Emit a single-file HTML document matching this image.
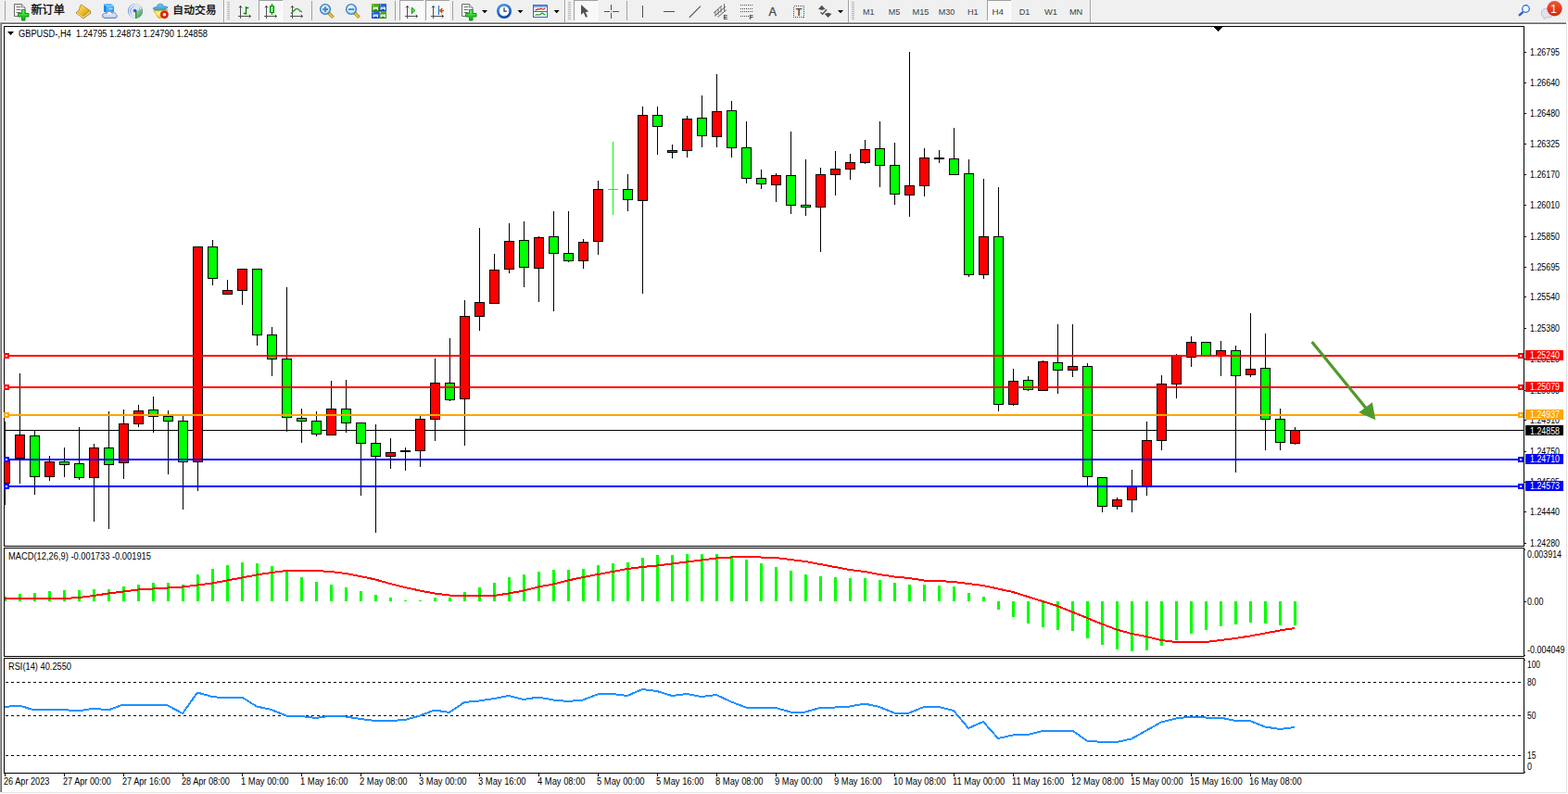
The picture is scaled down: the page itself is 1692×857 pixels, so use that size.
<!DOCTYPE html>
<html><head><meta charset="utf-8"><title>GBPUSD H4</title>
<style>
html,body{margin:0;padding:0;background:#fff;}
body{width:1692px;height:857px;overflow:hidden;position:relative;font-family:"Liberation Sans",sans-serif;}
#tb{position:absolute;left:0;top:0;width:1692px;height:24px;background:#f0f0f0;}
.ln{position:absolute;}
svg{position:absolute;left:0;top:0;}
</style></head><body>
<div id="tb"></div>
<div class="ln" style="left:0;top:23px;width:1692px;height:1px;background:#f6f6f6"></div>
<div class="ln" style="left:0;top:24px;width:1690px;height:1px;background:#a0a0a0"></div>
<div class="ln" style="left:0;top:25px;width:1690px;height:1px;background:#696969"></div>
<div class="ln" style="left:0;top:24px;width:1px;height:831px;background:#a0a0a0"></div>
<div class="ln" style="left:1px;top:25px;width:1px;height:830px;background:#696969"></div>
<div class="ln" style="left:1690px;top:24px;width:2px;height:2px;background:#f4f4f4"></div>
<div class="ln" style="left:1690px;top:26px;width:1px;height:830px;background:#e3e3e3"></div>
<div class="ln" style="left:1px;top:855px;width:1690px;height:1px;background:#e3e3e3"></div>
<svg id="chart" width="1692" height="857" viewBox="0 0 1692 857" shape-rendering="crispEdges"><rect x="4" y="28" width="1641" height="1" fill="#000"/>
<rect x="4" y="589" width="1641" height="1" fill="#000"/>
<rect x="4" y="28" width="1" height="562" fill="#000"/>
<rect x="1644" y="28" width="1" height="562" fill="#000"/>
<rect x="4" y="591" width="1641" height="1" fill="#000"/>
<rect x="4" y="708" width="1641" height="1" fill="#000"/>
<rect x="4" y="591" width="1" height="118" fill="#000"/>
<rect x="1644" y="591" width="1" height="118" fill="#000"/>
<rect x="4" y="710" width="1641" height="1" fill="#000"/>
<rect x="4" y="834" width="1641" height="1" fill="#000"/>
<rect x="4" y="710" width="1" height="125" fill="#000"/>
<rect x="1644" y="710" width="1" height="125" fill="#000"/>
<rect x="1645" y="593" width="1" height="1" fill="#000"/>
<rect x="1645" y="707" width="1" height="1" fill="#000"/>
<rect x="1645" y="712" width="1" height="1" fill="#000"/>
<rect x="1645" y="833" width="1" height="1" fill="#000"/>
<rect x="1310" y="29" width="9" height="1" fill="#000"/>
<rect x="1311" y="30" width="7" height="1" fill="#000"/>
<rect x="1312" y="31" width="5" height="1" fill="#000"/>
<rect x="1313" y="32" width="3" height="1" fill="#000"/>
<rect x="1314" y="33" width="1" height="1" fill="#000"/>
<rect x="5" y="464" width="1639" height="1" fill="#000"/>
<rect x="5" y="455" width="1" height="90" fill="#000"/>
<rect x="5" y="497" width="6" height="25" fill="#000"/>
<rect x="5" y="498" width="5" height="23" fill="#f00"/>
<rect x="21" y="403" width="1" height="119" fill="#000"/>
<rect x="16" y="469" width="11" height="26" fill="#000"/>
<rect x="17" y="470" width="9" height="24" fill="#f00"/>
<rect x="37" y="465" width="1" height="69" fill="#000"/>
<rect x="32" y="470" width="11" height="45" fill="#000"/>
<rect x="33" y="471" width="9" height="43" fill="#0f0"/>
<rect x="53" y="492" width="1" height="27" fill="#000"/>
<rect x="48" y="498" width="11" height="17" fill="#000"/>
<rect x="49" y="499" width="9" height="15" fill="#f00"/>
<rect x="69" y="483" width="1" height="32" fill="#000"/>
<rect x="64" y="498" width="11" height="4" fill="#000"/>
<rect x="65" y="499" width="9" height="2" fill="#0f0"/>
<rect x="85" y="461" width="1" height="57" fill="#000"/>
<rect x="80" y="500" width="11" height="16" fill="#000"/>
<rect x="81" y="501" width="9" height="14" fill="#0f0"/>
<rect x="101" y="479" width="1" height="84" fill="#000"/>
<rect x="96" y="483" width="11" height="33" fill="#000"/>
<rect x="97" y="484" width="9" height="31" fill="#f00"/>
<rect x="117" y="444" width="1" height="127" fill="#000"/>
<rect x="112" y="483" width="11" height="19" fill="#000"/>
<rect x="113" y="484" width="9" height="17" fill="#0f0"/>
<rect x="133" y="442" width="1" height="75" fill="#000"/>
<rect x="128" y="457" width="11" height="43" fill="#000"/>
<rect x="129" y="458" width="9" height="41" fill="#f00"/>
<rect x="149" y="437" width="1" height="24" fill="#000"/>
<rect x="144" y="443" width="11" height="15" fill="#000"/>
<rect x="145" y="444" width="9" height="13" fill="#f00"/>
<rect x="165" y="428" width="1" height="39" fill="#000"/>
<rect x="160" y="442" width="11" height="8" fill="#000"/>
<rect x="161" y="443" width="9" height="6" fill="#0f0"/>
<rect x="181" y="443" width="1" height="69" fill="#000"/>
<rect x="176" y="449" width="11" height="6" fill="#000"/>
<rect x="177" y="450" width="9" height="4" fill="#0f0"/>
<rect x="197" y="449" width="1" height="101" fill="#000"/>
<rect x="192" y="454" width="11" height="45" fill="#000"/>
<rect x="193" y="455" width="9" height="43" fill="#0f0"/>
<rect x="213" y="266" width="1" height="264" fill="#000"/>
<rect x="208" y="266" width="11" height="233" fill="#000"/>
<rect x="209" y="267" width="9" height="231" fill="#f00"/>
<rect x="229" y="259" width="1" height="49" fill="#000"/>
<rect x="224" y="266" width="11" height="35" fill="#000"/>
<rect x="225" y="267" width="9" height="33" fill="#0f0"/>
<rect x="245" y="302" width="1" height="16" fill="#000"/>
<rect x="240" y="313" width="11" height="5" fill="#000"/>
<rect x="241" y="314" width="9" height="3" fill="#f00"/>
<rect x="261" y="290" width="1" height="39" fill="#000"/>
<rect x="256" y="290" width="11" height="24" fill="#000"/>
<rect x="257" y="291" width="9" height="22" fill="#f00"/>
<rect x="277" y="290" width="1" height="83" fill="#000"/>
<rect x="272" y="290" width="11" height="72" fill="#000"/>
<rect x="273" y="291" width="9" height="70" fill="#0f0"/>
<rect x="293" y="353" width="1" height="53" fill="#000"/>
<rect x="288" y="361" width="11" height="27" fill="#000"/>
<rect x="289" y="362" width="9" height="25" fill="#0f0"/>
<rect x="309" y="310" width="1" height="156" fill="#000"/>
<rect x="304" y="387" width="11" height="64" fill="#000"/>
<rect x="305" y="388" width="9" height="62" fill="#0f0"/>
<rect x="325" y="441" width="1" height="37" fill="#000"/>
<rect x="320" y="451" width="11" height="4" fill="#000"/>
<rect x="321" y="452" width="9" height="2" fill="#0f0"/>
<rect x="341" y="444" width="1" height="27" fill="#000"/>
<rect x="336" y="454" width="11" height="15" fill="#000"/>
<rect x="337" y="455" width="9" height="13" fill="#0f0"/>
<rect x="357" y="411" width="1" height="59" fill="#000"/>
<rect x="352" y="441" width="11" height="29" fill="#000"/>
<rect x="353" y="442" width="9" height="27" fill="#f00"/>
<rect x="373" y="410" width="1" height="57" fill="#000"/>
<rect x="368" y="441" width="11" height="16" fill="#000"/>
<rect x="369" y="442" width="9" height="14" fill="#0f0"/>
<rect x="389" y="456" width="1" height="79" fill="#000"/>
<rect x="384" y="456" width="11" height="23" fill="#000"/>
<rect x="385" y="457" width="9" height="21" fill="#0f0"/>
<rect x="405" y="458" width="1" height="117" fill="#000"/>
<rect x="400" y="478" width="11" height="15" fill="#000"/>
<rect x="401" y="479" width="9" height="13" fill="#0f0"/>
<rect x="421" y="473" width="1" height="33" fill="#000"/>
<rect x="416" y="488" width="11" height="5" fill="#000"/>
<rect x="417" y="489" width="9" height="3" fill="#f00"/>
<rect x="437" y="483" width="1" height="25" fill="#000"/>
<rect x="432" y="486" width="11" height="2" fill="#000"/>
<rect x="453" y="449" width="1" height="55" fill="#000"/>
<rect x="448" y="452" width="11" height="35" fill="#000"/>
<rect x="449" y="453" width="9" height="33" fill="#f00"/>
<rect x="469" y="387" width="1" height="89" fill="#000"/>
<rect x="464" y="413" width="11" height="40" fill="#000"/>
<rect x="465" y="414" width="9" height="38" fill="#f00"/>
<rect x="485" y="365" width="1" height="68" fill="#000"/>
<rect x="480" y="413" width="11" height="19" fill="#000"/>
<rect x="481" y="414" width="9" height="17" fill="#0f0"/>
<rect x="501" y="324" width="1" height="157" fill="#000"/>
<rect x="496" y="341" width="11" height="90" fill="#000"/>
<rect x="497" y="342" width="9" height="88" fill="#f00"/>
<rect x="517" y="246" width="1" height="111" fill="#000"/>
<rect x="512" y="326" width="11" height="16" fill="#000"/>
<rect x="513" y="327" width="9" height="14" fill="#f00"/>
<rect x="533" y="274" width="1" height="54" fill="#000"/>
<rect x="528" y="291" width="11" height="37" fill="#000"/>
<rect x="529" y="292" width="9" height="35" fill="#f00"/>
<rect x="549" y="241" width="1" height="54" fill="#000"/>
<rect x="544" y="260" width="11" height="31" fill="#000"/>
<rect x="545" y="261" width="9" height="29" fill="#f00"/>
<rect x="565" y="239" width="1" height="71" fill="#000"/>
<rect x="560" y="259" width="11" height="30" fill="#000"/>
<rect x="561" y="260" width="9" height="28" fill="#0f0"/>
<rect x="581" y="255" width="1" height="71" fill="#000"/>
<rect x="576" y="256" width="11" height="34" fill="#000"/>
<rect x="577" y="257" width="9" height="32" fill="#f00"/>
<rect x="597" y="228" width="1" height="108" fill="#000"/>
<rect x="592" y="255" width="11" height="19" fill="#000"/>
<rect x="593" y="256" width="9" height="17" fill="#0f0"/>
<rect x="613" y="228" width="1" height="55" fill="#000"/>
<rect x="608" y="273" width="11" height="9" fill="#000"/>
<rect x="609" y="274" width="9" height="7" fill="#0f0"/>
<rect x="629" y="258" width="1" height="32" fill="#000"/>
<rect x="624" y="261" width="11" height="21" fill="#000"/>
<rect x="625" y="262" width="9" height="19" fill="#f00"/>
<rect x="645" y="195" width="1" height="80" fill="#000"/>
<rect x="640" y="204" width="11" height="57" fill="#000"/>
<rect x="641" y="205" width="9" height="55" fill="#f00"/>
<rect x="661" y="153" width="1" height="79" fill="#0f0"/>
<rect x="656" y="204" width="11" height="1" fill="#0f0"/>
<rect x="677" y="188" width="1" height="40" fill="#000"/>
<rect x="672" y="204" width="11" height="12" fill="#000"/>
<rect x="673" y="205" width="9" height="10" fill="#0f0"/>
<rect x="693" y="115" width="1" height="202" fill="#000"/>
<rect x="688" y="124" width="11" height="93" fill="#000"/>
<rect x="689" y="125" width="9" height="91" fill="#f00"/>
<rect x="709" y="115" width="1" height="52" fill="#000"/>
<rect x="704" y="124" width="11" height="13" fill="#000"/>
<rect x="705" y="125" width="9" height="11" fill="#0f0"/>
<rect x="725" y="156" width="1" height="15" fill="#000"/>
<rect x="720" y="162" width="11" height="3" fill="#000"/>
<rect x="721" y="163" width="9" height="1" fill="#f00"/>
<rect x="741" y="125" width="1" height="45" fill="#000"/>
<rect x="736" y="128" width="11" height="35" fill="#000"/>
<rect x="737" y="129" width="9" height="33" fill="#f00"/>
<rect x="757" y="103" width="1" height="56" fill="#000"/>
<rect x="752" y="127" width="11" height="20" fill="#000"/>
<rect x="753" y="128" width="9" height="18" fill="#0f0"/>
<rect x="773" y="80" width="1" height="79" fill="#000"/>
<rect x="768" y="120" width="11" height="28" fill="#000"/>
<rect x="769" y="121" width="9" height="26" fill="#f00"/>
<rect x="789" y="109" width="1" height="61" fill="#000"/>
<rect x="784" y="119" width="11" height="41" fill="#000"/>
<rect x="785" y="120" width="9" height="39" fill="#0f0"/>
<rect x="805" y="131" width="1" height="67" fill="#000"/>
<rect x="800" y="159" width="11" height="34" fill="#000"/>
<rect x="801" y="160" width="9" height="32" fill="#0f0"/>
<rect x="821" y="183" width="1" height="21" fill="#000"/>
<rect x="816" y="192" width="11" height="7" fill="#000"/>
<rect x="817" y="193" width="9" height="5" fill="#0f0"/>
<rect x="837" y="187" width="1" height="31" fill="#000"/>
<rect x="832" y="189" width="11" height="11" fill="#000"/>
<rect x="833" y="190" width="9" height="9" fill="#f00"/>
<rect x="853" y="142" width="1" height="89" fill="#000"/>
<rect x="848" y="189" width="11" height="33" fill="#000"/>
<rect x="849" y="190" width="9" height="31" fill="#0f0"/>
<rect x="869" y="172" width="1" height="61" fill="#000"/>
<rect x="864" y="221" width="11" height="3" fill="#000"/>
<rect x="865" y="222" width="9" height="1" fill="#0f0"/>
<rect x="885" y="181" width="1" height="91" fill="#000"/>
<rect x="880" y="188" width="11" height="36" fill="#000"/>
<rect x="881" y="189" width="9" height="34" fill="#f00"/>
<rect x="901" y="163" width="1" height="48" fill="#000"/>
<rect x="896" y="182" width="11" height="7" fill="#000"/>
<rect x="897" y="183" width="9" height="5" fill="#f00"/>
<rect x="917" y="166" width="1" height="28" fill="#000"/>
<rect x="912" y="175" width="11" height="8" fill="#000"/>
<rect x="913" y="176" width="9" height="6" fill="#f00"/>
<rect x="933" y="151" width="1" height="26" fill="#000"/>
<rect x="928" y="161" width="11" height="15" fill="#000"/>
<rect x="929" y="162" width="9" height="13" fill="#f00"/>
<rect x="949" y="131" width="1" height="71" fill="#000"/>
<rect x="944" y="160" width="11" height="19" fill="#000"/>
<rect x="945" y="161" width="9" height="17" fill="#0f0"/>
<rect x="965" y="154" width="1" height="67" fill="#000"/>
<rect x="960" y="178" width="11" height="32" fill="#000"/>
<rect x="961" y="179" width="9" height="30" fill="#0f0"/>
<rect x="981" y="56" width="1" height="178" fill="#000"/>
<rect x="976" y="200" width="11" height="11" fill="#000"/>
<rect x="977" y="201" width="9" height="9" fill="#f00"/>
<rect x="997" y="160" width="1" height="52" fill="#000"/>
<rect x="992" y="170" width="11" height="31" fill="#000"/>
<rect x="993" y="171" width="9" height="29" fill="#f00"/>
<rect x="1013" y="162" width="1" height="14" fill="#000"/>
<rect x="1008" y="170" width="11" height="2" fill="#000"/>
<rect x="1029" y="138" width="1" height="51" fill="#000"/>
<rect x="1024" y="171" width="11" height="18" fill="#000"/>
<rect x="1025" y="172" width="9" height="16" fill="#0f0"/>
<rect x="1045" y="172" width="1" height="127" fill="#000"/>
<rect x="1040" y="187" width="11" height="110" fill="#000"/>
<rect x="1041" y="188" width="9" height="108" fill="#0f0"/>
<rect x="1061" y="193" width="1" height="108" fill="#000"/>
<rect x="1056" y="255" width="11" height="42" fill="#000"/>
<rect x="1057" y="256" width="9" height="40" fill="#f00"/>
<rect x="1077" y="202" width="1" height="242" fill="#000"/>
<rect x="1072" y="255" width="11" height="182" fill="#000"/>
<rect x="1073" y="256" width="9" height="180" fill="#0f0"/>
<rect x="1093" y="398" width="1" height="40" fill="#000"/>
<rect x="1088" y="411" width="11" height="26" fill="#000"/>
<rect x="1089" y="412" width="9" height="24" fill="#f00"/>
<rect x="1109" y="406" width="1" height="16" fill="#000"/>
<rect x="1104" y="410" width="11" height="11" fill="#000"/>
<rect x="1105" y="411" width="9" height="9" fill="#0f0"/>
<rect x="1125" y="389" width="1" height="33" fill="#000"/>
<rect x="1120" y="390" width="11" height="32" fill="#000"/>
<rect x="1121" y="391" width="9" height="30" fill="#f00"/>
<rect x="1141" y="350" width="1" height="75" fill="#000"/>
<rect x="1136" y="391" width="11" height="9" fill="#000"/>
<rect x="1137" y="392" width="9" height="7" fill="#0f0"/>
<rect x="1157" y="350" width="1" height="57" fill="#000"/>
<rect x="1152" y="395" width="11" height="5" fill="#000"/>
<rect x="1153" y="396" width="9" height="3" fill="#f00"/>
<rect x="1173" y="392" width="1" height="132" fill="#000"/>
<rect x="1168" y="395" width="11" height="120" fill="#000"/>
<rect x="1169" y="396" width="9" height="118" fill="#0f0"/>
<rect x="1189" y="515" width="1" height="38" fill="#000"/>
<rect x="1184" y="515" width="11" height="32" fill="#000"/>
<rect x="1185" y="516" width="9" height="30" fill="#0f0"/>
<rect x="1205" y="537" width="1" height="13" fill="#000"/>
<rect x="1200" y="539" width="11" height="8" fill="#000"/>
<rect x="1201" y="540" width="9" height="6" fill="#f00"/>
<rect x="1221" y="507" width="1" height="46" fill="#000"/>
<rect x="1216" y="525" width="11" height="15" fill="#000"/>
<rect x="1217" y="526" width="9" height="13" fill="#f00"/>
<rect x="1237" y="455" width="1" height="80" fill="#000"/>
<rect x="1232" y="475" width="11" height="50" fill="#000"/>
<rect x="1233" y="476" width="9" height="48" fill="#f00"/>
<rect x="1253" y="405" width="1" height="81" fill="#000"/>
<rect x="1248" y="414" width="11" height="62" fill="#000"/>
<rect x="1249" y="415" width="9" height="60" fill="#f00"/>
<rect x="1269" y="382" width="1" height="48" fill="#000"/>
<rect x="1264" y="384" width="11" height="31" fill="#000"/>
<rect x="1265" y="385" width="9" height="29" fill="#f00"/>
<rect x="1285" y="363" width="1" height="33" fill="#000"/>
<rect x="1280" y="369" width="11" height="17" fill="#000"/>
<rect x="1281" y="370" width="9" height="15" fill="#f00"/>
<rect x="1301" y="369" width="1" height="16" fill="#000"/>
<rect x="1296" y="369" width="11" height="16" fill="#000"/>
<rect x="1297" y="370" width="9" height="14" fill="#0f0"/>
<rect x="1317" y="368" width="1" height="38" fill="#000"/>
<rect x="1312" y="378" width="11" height="7" fill="#000"/>
<rect x="1313" y="379" width="9" height="5" fill="#f00"/>
<rect x="1333" y="373" width="1" height="137" fill="#000"/>
<rect x="1328" y="378" width="11" height="28" fill="#000"/>
<rect x="1329" y="379" width="9" height="26" fill="#0f0"/>
<rect x="1349" y="338" width="1" height="69" fill="#000"/>
<rect x="1344" y="398" width="11" height="7" fill="#000"/>
<rect x="1345" y="399" width="9" height="5" fill="#f00"/>
<rect x="1365" y="360" width="1" height="126" fill="#000"/>
<rect x="1360" y="397" width="11" height="56" fill="#000"/>
<rect x="1361" y="398" width="9" height="54" fill="#0f0"/>
<rect x="1381" y="441" width="1" height="45" fill="#000"/>
<rect x="1376" y="452" width="11" height="26" fill="#000"/>
<rect x="1377" y="453" width="9" height="24" fill="#0f0"/>
<rect x="1397" y="461" width="1" height="19" fill="#000"/>
<rect x="1392" y="464" width="11" height="15" fill="#000"/>
<rect x="1393" y="465" width="9" height="13" fill="#f00"/>
<rect x="5" y="383" width="1639" height="2" fill="#f00"/>
<rect x="4" y="381" width="6" height="6" fill="#f00"/>
<rect x="6" y="383" width="2" height="2" fill="#fff"/>
<rect x="1638" y="381" width="6" height="6" fill="#f00"/>
<rect x="1640" y="383" width="2" height="2" fill="#fff"/>
<rect x="5" y="417" width="1639" height="2" fill="#f00"/>
<rect x="4" y="415" width="6" height="6" fill="#f00"/>
<rect x="6" y="417" width="2" height="2" fill="#fff"/>
<rect x="1638" y="415" width="6" height="6" fill="#f00"/>
<rect x="1640" y="417" width="2" height="2" fill="#fff"/>
<rect x="5" y="447" width="1639" height="2" fill="#ffa500"/>
<rect x="4" y="445" width="6" height="6" fill="#ffa500"/>
<rect x="6" y="447" width="2" height="2" fill="#fff"/>
<rect x="1638" y="445" width="6" height="6" fill="#ffa500"/>
<rect x="1640" y="447" width="2" height="2" fill="#fff"/>
<rect x="5" y="495" width="1639" height="2" fill="#00f"/>
<rect x="4" y="493" width="6" height="6" fill="#00f"/>
<rect x="6" y="495" width="2" height="2" fill="#fff"/>
<rect x="1638" y="493" width="6" height="6" fill="#00f"/>
<rect x="1640" y="495" width="2" height="2" fill="#fff"/>
<rect x="5" y="524" width="1639" height="2" fill="#00f"/>
<rect x="4" y="522" width="6" height="6" fill="#00f"/>
<rect x="6" y="524" width="2" height="2" fill="#fff"/>
<rect x="1638" y="522" width="6" height="6" fill="#00f"/>
<rect x="1640" y="524" width="2" height="2" fill="#fff"/>
<g shape-rendering="geometricPrecision"><line x1="1415.7" y1="368.9" x2="1474" y2="440.5" stroke="#4e9a2c" stroke-width="3.2"/><polygon points="1484.3,453.2 1466.2,445.2 1480.8,434.2" fill="#4e9a2c"/></g>
<rect x="5" y="644" width="2" height="5" fill="#0f0"/>
<rect x="20" y="641" width="3" height="8" fill="#0f0"/>
<rect x="36" y="640" width="3" height="9" fill="#0f0"/>
<rect x="52" y="638" width="3" height="11" fill="#0f0"/>
<rect x="68" y="637" width="3" height="12" fill="#0f0"/>
<rect x="84" y="637" width="3" height="12" fill="#0f0"/>
<rect x="100" y="636" width="3" height="13" fill="#0f0"/>
<rect x="116" y="636" width="3" height="13" fill="#0f0"/>
<rect x="132" y="633" width="3" height="16" fill="#0f0"/>
<rect x="148" y="631" width="3" height="18" fill="#0f0"/>
<rect x="164" y="629" width="3" height="20" fill="#0f0"/>
<rect x="180" y="629" width="3" height="20" fill="#0f0"/>
<rect x="196" y="631" width="3" height="18" fill="#0f0"/>
<rect x="212" y="620" width="3" height="29" fill="#0f0"/>
<rect x="228" y="614" width="3" height="35" fill="#0f0"/>
<rect x="244" y="610" width="3" height="39" fill="#0f0"/>
<rect x="260" y="607" width="3" height="42" fill="#0f0"/>
<rect x="276" y="608" width="3" height="41" fill="#0f0"/>
<rect x="292" y="611" width="3" height="38" fill="#0f0"/>
<rect x="308" y="617" width="3" height="32" fill="#0f0"/>
<rect x="324" y="623" width="3" height="26" fill="#0f0"/>
<rect x="340" y="628" width="3" height="21" fill="#0f0"/>
<rect x="356" y="631" width="3" height="18" fill="#0f0"/>
<rect x="372" y="634" width="3" height="15" fill="#0f0"/>
<rect x="388" y="638" width="3" height="11" fill="#0f0"/>
<rect x="404" y="642" width="3" height="7" fill="#0f0"/>
<rect x="420" y="645" width="3" height="4" fill="#0f0"/>
<rect x="436" y="648" width="3" height="1" fill="#0f0"/>
<rect x="452" y="648" width="3" height="1" fill="#0f0"/>
<rect x="468" y="645" width="3" height="4" fill="#0f0"/>
<rect x="484" y="645" width="3" height="4" fill="#0f0"/>
<rect x="500" y="639" width="3" height="10" fill="#0f0"/>
<rect x="516" y="634" width="3" height="15" fill="#0f0"/>
<rect x="532" y="629" width="3" height="20" fill="#0f0"/>
<rect x="548" y="623" width="3" height="26" fill="#0f0"/>
<rect x="564" y="620" width="3" height="29" fill="#0f0"/>
<rect x="580" y="617" width="3" height="32" fill="#0f0"/>
<rect x="596" y="615" width="3" height="34" fill="#0f0"/>
<rect x="612" y="615" width="3" height="34" fill="#0f0"/>
<rect x="628" y="614" width="3" height="35" fill="#0f0"/>
<rect x="644" y="610" width="3" height="39" fill="#0f0"/>
<rect x="660" y="608" width="3" height="41" fill="#0f0"/>
<rect x="676" y="607" width="3" height="42" fill="#0f0"/>
<rect x="692" y="602" width="3" height="47" fill="#0f0"/>
<rect x="708" y="599" width="3" height="50" fill="#0f0"/>
<rect x="724" y="599" width="3" height="50" fill="#0f0"/>
<rect x="740" y="598" width="3" height="51" fill="#0f0"/>
<rect x="756" y="598" width="3" height="51" fill="#0f0"/>
<rect x="772" y="598" width="3" height="51" fill="#0f0"/>
<rect x="788" y="600" width="3" height="49" fill="#0f0"/>
<rect x="804" y="604" width="3" height="45" fill="#0f0"/>
<rect x="820" y="608" width="3" height="41" fill="#0f0"/>
<rect x="836" y="612" width="3" height="37" fill="#0f0"/>
<rect x="852" y="616" width="3" height="33" fill="#0f0"/>
<rect x="868" y="620" width="3" height="29" fill="#0f0"/>
<rect x="884" y="622" width="3" height="27" fill="#0f0"/>
<rect x="900" y="623" width="3" height="26" fill="#0f0"/>
<rect x="916" y="624" width="3" height="25" fill="#0f0"/>
<rect x="932" y="624" width="3" height="25" fill="#0f0"/>
<rect x="948" y="626" width="3" height="23" fill="#0f0"/>
<rect x="964" y="629" width="3" height="20" fill="#0f0"/>
<rect x="980" y="631" width="3" height="18" fill="#0f0"/>
<rect x="996" y="631" width="3" height="18" fill="#0f0"/>
<rect x="1012" y="632" width="3" height="17" fill="#0f0"/>
<rect x="1028" y="633" width="3" height="16" fill="#0f0"/>
<rect x="1044" y="640" width="3" height="9" fill="#0f0"/>
<rect x="1060" y="644" width="3" height="5" fill="#0f0"/>
<rect x="1076" y="649" width="3" height="9" fill="#0f0"/>
<rect x="1092" y="649" width="3" height="17" fill="#0f0"/>
<rect x="1108" y="649" width="3" height="24" fill="#0f0"/>
<rect x="1124" y="649" width="3" height="28" fill="#0f0"/>
<rect x="1140" y="649" width="3" height="31" fill="#0f0"/>
<rect x="1156" y="649" width="3" height="32" fill="#0f0"/>
<rect x="1172" y="649" width="3" height="40" fill="#0f0"/>
<rect x="1188" y="649" width="3" height="47" fill="#0f0"/>
<rect x="1204" y="649" width="3" height="52" fill="#0f0"/>
<rect x="1220" y="649" width="3" height="54" fill="#0f0"/>
<rect x="1236" y="649" width="3" height="53" fill="#0f0"/>
<rect x="1252" y="649" width="3" height="48" fill="#0f0"/>
<rect x="1268" y="649" width="3" height="42" fill="#0f0"/>
<rect x="1284" y="649" width="3" height="35" fill="#0f0"/>
<rect x="1300" y="649" width="3" height="31" fill="#0f0"/>
<rect x="1316" y="649" width="3" height="27" fill="#0f0"/>
<rect x="1332" y="649" width="3" height="25" fill="#0f0"/>
<rect x="1348" y="649" width="3" height="23" fill="#0f0"/>
<rect x="1364" y="649" width="3" height="24" fill="#0f0"/>
<rect x="1380" y="649" width="3" height="26" fill="#0f0"/>
<rect x="1396" y="649" width="3" height="26" fill="#0f0"/>
<polyline points="5,645.5 21,646 37,646 53,646 69,646 85,645 101,643 117,640.5 133,638.5 149,636.5 165,635.5 181,634.5 197,633.5 213,631.5 229,629.5 245,626.5 261,623.5 277,620.5 293,618 309,616 325,616 341,616 357,617 373,619 389,622 405,625.5 421,630 437,634 453,637.5 469,640.5 485,642.5 501,643 517,643 533,643 549,640.5 565,637.5 581,633.5 597,630.5 613,626.5 629,623 645,620 661,617 677,614 693,612 709,610.5 725,608.5 741,606.5 757,604.5 773,602.5 789,601.5 805,601 821,601.5 837,602 853,604 869,606 885,609 901,612 917,615 933,617 949,620 965,622.5 981,624 997,626.5 1013,627 1029,628 1045,630 1061,632 1077,635.5 1093,639 1109,644 1125,649 1141,654 1157,660.5 1173,667 1189,673.5 1205,679.5 1221,684 1237,687 1253,691 1269,693 1285,693 1301,693 1317,691 1333,689 1349,686.5 1365,683.5 1381,680.5 1397,678" fill="none" stroke="#f00" stroke-width="2" shape-rendering="crispEdges" stroke-linejoin="round"/>
<line x1="6" y1="736.5" x2="1644" y2="736.5" stroke="#000" stroke-width="1" stroke-dasharray="3 3"/>
<line x1="6" y1="772.5" x2="1644" y2="772.5" stroke="#000" stroke-width="1" stroke-dasharray="3 3"/>
<line x1="6" y1="815.5" x2="1644" y2="815.5" stroke="#000" stroke-width="1" stroke-dasharray="3 3"/>
<polyline points="5,763 21,761.5 37,766.5 53,765.5 69,766 85,767.5 101,764.5 117,766.5 133,760.5 149,760.5 165,761 181,761.5 197,770 213,747.5 229,752 245,753.5 261,752.5 277,762.5 293,766 309,772.5 325,773 341,775 357,772.5 373,773.5 389,776 405,778 421,778 437,777 453,772.5 469,766.5 485,769 501,758 517,756.5 533,754 549,751 565,755 581,752.5 597,755.5 613,757 629,755.5 645,749.5 661,749 677,751 693,744 709,746 725,751 741,749 757,752 773,750 789,757.5 805,763.5 821,764 837,764 853,768.5 869,768.5 885,764 901,763.5 917,762.5 933,759.5 949,763 965,769.5 981,769.5 997,763 1013,763 1029,767 1045,786 1061,779 1077,797 1093,793.5 1109,793 1125,789 1141,788.5 1157,788.5 1173,799.5 1189,801 1205,801 1221,797.5 1237,788.5 1253,779.5 1269,775.5 1285,773.5 1301,774.5 1317,774.5 1333,778 1349,778 1365,784.5 1381,787 1397,785" fill="none" stroke="#1e90ff" stroke-width="2" shape-rendering="crispEdges" stroke-linejoin="round"/>
<rect x="1645" y="56" width="2" height="1" fill="#000"/>
<rect x="1645" y="89" width="2" height="1" fill="#000"/>
<rect x="1645" y="122" width="2" height="1" fill="#000"/>
<rect x="1645" y="155" width="2" height="1" fill="#000"/>
<rect x="1645" y="188" width="2" height="1" fill="#000"/>
<rect x="1645" y="221" width="2" height="1" fill="#000"/>
<rect x="1645" y="255" width="2" height="1" fill="#000"/>
<rect x="1645" y="288" width="2" height="1" fill="#000"/>
<rect x="1645" y="320" width="2" height="1" fill="#000"/>
<rect x="1645" y="354" width="2" height="1" fill="#000"/>
<rect x="1645" y="387" width="2" height="1" fill="#000"/>
<rect x="1645" y="421" width="2" height="1" fill="#000"/>
<rect x="1645" y="453" width="2" height="1" fill="#000"/>
<rect x="1645" y="487" width="2" height="1" fill="#000"/>
<rect x="1645" y="520" width="2" height="1" fill="#000"/>
<rect x="1645" y="552" width="2" height="1" fill="#000"/>
<rect x="1645" y="586" width="2" height="1" fill="#000"/>
<rect x="1645" y="649" width="2" height="1" fill="#000"/>
<rect x="5" y="835" width="1" height="3" fill="#000"/>
<rect x="69" y="835" width="1" height="3" fill="#000"/>
<rect x="133" y="835" width="1" height="3" fill="#000"/>
<rect x="197" y="835" width="1" height="3" fill="#000"/>
<rect x="261" y="835" width="1" height="3" fill="#000"/>
<rect x="325" y="835" width="1" height="3" fill="#000"/>
<rect x="389" y="835" width="1" height="3" fill="#000"/>
<rect x="453" y="835" width="1" height="3" fill="#000"/>
<rect x="517" y="835" width="1" height="3" fill="#000"/>
<rect x="581" y="835" width="1" height="3" fill="#000"/>
<rect x="645" y="835" width="1" height="3" fill="#000"/>
<rect x="709" y="835" width="1" height="3" fill="#000"/>
<rect x="773" y="835" width="1" height="3" fill="#000"/>
<rect x="837" y="835" width="1" height="3" fill="#000"/>
<rect x="901" y="835" width="1" height="3" fill="#000"/>
<rect x="965" y="835" width="1" height="3" fill="#000"/>
<rect x="1029" y="835" width="1" height="3" fill="#000"/>
<rect x="1093" y="835" width="1" height="3" fill="#000"/>
<rect x="1157" y="835" width="1" height="3" fill="#000"/>
<rect x="1221" y="835" width="1" height="3" fill="#000"/>
<rect x="1285" y="835" width="1" height="3" fill="#000"/>
<rect x="1349" y="835" width="1" height="3" fill="#000"/>
<polygon points="8,34 15,34 11.5,38" fill="#000" shape-rendering="geometricPrecision"/>
<g font-family="Liberation Sans, sans-serif" shape-rendering="geometricPrecision"><text x="1651" y="60" fill="#000" font-size="10" text-anchor="start" font-weight="normal" textLength="32" lengthAdjust="spacingAndGlyphs">1.26795</text>
<text x="1651" y="93" fill="#000" font-size="10" text-anchor="start" font-weight="normal" textLength="32" lengthAdjust="spacingAndGlyphs">1.26640</text>
<text x="1651" y="126" fill="#000" font-size="10" text-anchor="start" font-weight="normal" textLength="32" lengthAdjust="spacingAndGlyphs">1.26480</text>
<text x="1651" y="159" fill="#000" font-size="10" text-anchor="start" font-weight="normal" textLength="32" lengthAdjust="spacingAndGlyphs">1.26325</text>
<text x="1651" y="192" fill="#000" font-size="10" text-anchor="start" font-weight="normal" textLength="32" lengthAdjust="spacingAndGlyphs">1.26170</text>
<text x="1651" y="225" fill="#000" font-size="10" text-anchor="start" font-weight="normal" textLength="32" lengthAdjust="spacingAndGlyphs">1.26010</text>
<text x="1651" y="259" fill="#000" font-size="10" text-anchor="start" font-weight="normal" textLength="32" lengthAdjust="spacingAndGlyphs">1.25850</text>
<text x="1651" y="292" fill="#000" font-size="10" text-anchor="start" font-weight="normal" textLength="32" lengthAdjust="spacingAndGlyphs">1.25695</text>
<text x="1651" y="324" fill="#000" font-size="10" text-anchor="start" font-weight="normal" textLength="32" lengthAdjust="spacingAndGlyphs">1.25540</text>
<text x="1651" y="358" fill="#000" font-size="10" text-anchor="start" font-weight="normal" textLength="32" lengthAdjust="spacingAndGlyphs">1.25380</text>
<text x="1651" y="391" fill="#000" font-size="10" text-anchor="start" font-weight="normal" textLength="32" lengthAdjust="spacingAndGlyphs">1.25225</text>
<text x="1651" y="425" fill="#000" font-size="10" text-anchor="start" font-weight="normal" textLength="32" lengthAdjust="spacingAndGlyphs">1.25065</text>
<text x="1651" y="457" fill="#000" font-size="10" text-anchor="start" font-weight="normal" textLength="32" lengthAdjust="spacingAndGlyphs">1.24910</text>
<text x="1651" y="491" fill="#000" font-size="10" text-anchor="start" font-weight="normal" textLength="32" lengthAdjust="spacingAndGlyphs">1.24750</text>
<text x="1651" y="524" fill="#000" font-size="10" text-anchor="start" font-weight="normal" textLength="32" lengthAdjust="spacingAndGlyphs">1.24595</text>
<text x="1651" y="556" fill="#000" font-size="10" text-anchor="start" font-weight="normal" textLength="32" lengthAdjust="spacingAndGlyphs">1.24440</text>
<text x="1651" y="590" fill="#000" font-size="10" text-anchor="start" font-weight="normal" textLength="32" lengthAdjust="spacingAndGlyphs">1.24280</text>
<text x="1648" y="602" fill="#000" font-size="10" text-anchor="start" font-weight="normal" textLength="37" lengthAdjust="spacingAndGlyphs">0.003914</text>
<text x="1648" y="653" fill="#000" font-size="10" text-anchor="start" font-weight="normal" textLength="17.5" lengthAdjust="spacingAndGlyphs">0.00</text>
<text x="1648" y="705" fill="#000" font-size="10" text-anchor="start" font-weight="normal" textLength="40.5" lengthAdjust="spacingAndGlyphs">-0.004049</text>
<text x="1648" y="721" fill="#000" font-size="10" text-anchor="start" font-weight="normal" textLength="14" lengthAdjust="spacingAndGlyphs">100</text>
<text x="1648" y="740" fill="#000" font-size="10" text-anchor="start" font-weight="normal" textLength="9.5" lengthAdjust="spacingAndGlyphs">80</text>
<text x="1648" y="776" fill="#000" font-size="10" text-anchor="start" font-weight="normal" textLength="9.5" lengthAdjust="spacingAndGlyphs">50</text>
<text x="1648" y="819" fill="#000" font-size="10" text-anchor="start" font-weight="normal" textLength="9.5" lengthAdjust="spacingAndGlyphs">15</text>
<text x="1648" y="831" fill="#000" font-size="10" text-anchor="start" font-weight="normal" textLength="5" lengthAdjust="spacingAndGlyphs">0</text>
<text x="4" y="847" fill="#000" font-size="10" text-anchor="start" font-weight="normal" textLength="49.3" lengthAdjust="spacingAndGlyphs">26 Apr 2023</text>
<text x="68" y="847" fill="#000" font-size="10" text-anchor="start" font-weight="normal" textLength="51.8" lengthAdjust="spacingAndGlyphs">27 Apr 00:00</text>
<text x="132" y="847" fill="#000" font-size="10" text-anchor="start" font-weight="normal" textLength="51.8" lengthAdjust="spacingAndGlyphs">27 Apr 16:00</text>
<text x="196" y="847" fill="#000" font-size="10" text-anchor="start" font-weight="normal" textLength="51.8" lengthAdjust="spacingAndGlyphs">28 Apr 08:00</text>
<text x="260" y="847" fill="#000" font-size="10" text-anchor="start" font-weight="normal" textLength="51.6" lengthAdjust="spacingAndGlyphs">1 May 00:00</text>
<text x="324" y="847" fill="#000" font-size="10" text-anchor="start" font-weight="normal" textLength="51.6" lengthAdjust="spacingAndGlyphs">1 May 16:00</text>
<text x="388" y="847" fill="#000" font-size="10" text-anchor="start" font-weight="normal" textLength="51.6" lengthAdjust="spacingAndGlyphs">2 May 08:00</text>
<text x="452" y="847" fill="#000" font-size="10" text-anchor="start" font-weight="normal" textLength="51.6" lengthAdjust="spacingAndGlyphs">3 May 00:00</text>
<text x="516" y="847" fill="#000" font-size="10" text-anchor="start" font-weight="normal" textLength="51.6" lengthAdjust="spacingAndGlyphs">3 May 16:00</text>
<text x="580" y="847" fill="#000" font-size="10" text-anchor="start" font-weight="normal" textLength="51.6" lengthAdjust="spacingAndGlyphs">4 May 08:00</text>
<text x="644" y="847" fill="#000" font-size="10" text-anchor="start" font-weight="normal" textLength="51.6" lengthAdjust="spacingAndGlyphs">5 May 00:00</text>
<text x="708" y="847" fill="#000" font-size="10" text-anchor="start" font-weight="normal" textLength="51.6" lengthAdjust="spacingAndGlyphs">5 May 16:00</text>
<text x="772" y="847" fill="#000" font-size="10" text-anchor="start" font-weight="normal" textLength="51.6" lengthAdjust="spacingAndGlyphs">8 May 08:00</text>
<text x="836" y="847" fill="#000" font-size="10" text-anchor="start" font-weight="normal" textLength="51.6" lengthAdjust="spacingAndGlyphs">9 May 00:00</text>
<text x="900" y="847" fill="#000" font-size="10" text-anchor="start" font-weight="normal" textLength="51.6" lengthAdjust="spacingAndGlyphs">9 May 16:00</text>
<text x="964" y="847" fill="#000" font-size="10" text-anchor="start" font-weight="normal" textLength="56.8" lengthAdjust="spacingAndGlyphs">10 May 08:00</text>
<text x="1028" y="847" fill="#000" font-size="10" text-anchor="start" font-weight="normal" textLength="56.1" lengthAdjust="spacingAndGlyphs">11 May 00:00</text>
<text x="1092" y="847" fill="#000" font-size="10" text-anchor="start" font-weight="normal" textLength="56.1" lengthAdjust="spacingAndGlyphs">11 May 16:00</text>
<text x="1156" y="847" fill="#000" font-size="10" text-anchor="start" font-weight="normal" textLength="56.8" lengthAdjust="spacingAndGlyphs">12 May 08:00</text>
<text x="1220" y="847" fill="#000" font-size="10" text-anchor="start" font-weight="normal" textLength="56.8" lengthAdjust="spacingAndGlyphs">15 May 00:00</text>
<text x="1284" y="847" fill="#000" font-size="10" text-anchor="start" font-weight="normal" textLength="56.8" lengthAdjust="spacingAndGlyphs">15 May 16:00</text>
<text x="1348" y="847" fill="#000" font-size="10" text-anchor="start" font-weight="normal" textLength="56.8" lengthAdjust="spacingAndGlyphs">16 May 08:00</text>
<text x="20" y="40" fill="#000" font-size="10" text-anchor="start" font-weight="normal" textLength="204" lengthAdjust="spacingAndGlyphs">GBPUSD-,H4&#160;&#160;1.24795 1.24873 1.24790 1.24858</text>
<text x="9" y="604" fill="#000" font-size="10" text-anchor="start" font-weight="normal" textLength="154" lengthAdjust="spacingAndGlyphs">MACD(12,26,9) -0.001733 -0.001915</text>
<text x="9" y="723" fill="#000" font-size="10" text-anchor="start" font-weight="normal" textLength="68" lengthAdjust="spacingAndGlyphs">RSI(14) 40.2550</text><rect x="1646" y="378" width="41" height="11" fill="#f00" shape-rendering="crispEdges"/>
<text x="1651" y="387" fill="#fff" font-size="10" textLength="32" lengthAdjust="spacingAndGlyphs">1.25240</text>
<rect x="1646" y="412" width="41" height="11" fill="#f00" shape-rendering="crispEdges"/>
<text x="1651" y="421" fill="#fff" font-size="10" textLength="32" lengthAdjust="spacingAndGlyphs">1.25079</text>
<rect x="1646" y="442" width="41" height="11" fill="#ffa500" shape-rendering="crispEdges"/>
<text x="1651" y="451" fill="#fff" font-size="10" textLength="32" lengthAdjust="spacingAndGlyphs">1.24937</text>
<rect x="1646" y="490" width="41" height="11" fill="#00f" shape-rendering="crispEdges"/>
<text x="1651" y="499" fill="#fff" font-size="10" textLength="32" lengthAdjust="spacingAndGlyphs">1.24710</text>
<rect x="1646" y="519" width="41" height="11" fill="#00f" shape-rendering="crispEdges"/>
<text x="1651" y="528" fill="#fff" font-size="10" textLength="32" lengthAdjust="spacingAndGlyphs">1.24573</text>
<rect x="1646" y="459" width="41" height="11" fill="#000" shape-rendering="crispEdges"/>
<text x="1651" y="469" fill="#fff" font-size="10" textLength="32" lengthAdjust="spacingAndGlyphs">1.24858</text></g></svg>
<svg id="tbsvg" width="1692" height="24" viewBox="0 0 1692 24"><defs>
<linearGradient id="gp" x1="0" y1="0" x2="0" y2="1"><stop offset="0" stop-color="#6f6"/><stop offset="1" stop-color="#0a0"/></linearGradient>
<linearGradient id="gold" x1="0" y1="0" x2="1" y2="1"><stop offset="0" stop-color="#ffe97a"/><stop offset="0.6" stop-color="#e8b820"/><stop offset="1" stop-color="#b8780c"/></linearGradient>
<linearGradient id="bl" x1="0" y1="0" x2="0" y2="1"><stop offset="0" stop-color="#6cc4ff"/><stop offset="1" stop-color="#1a78d8"/></linearGradient>
<linearGradient id="cl" x1="0" y1="0" x2="0" y2="1"><stop offset="0" stop-color="#fff"/><stop offset="1" stop-color="#b8c8e4"/></linearGradient>
<linearGradient id="rd" x1="0" y1="0" x2="0" y2="1"><stop offset="0" stop-color="#ec5636"/><stop offset="1" stop-color="#d6260c"/></linearGradient>
<linearGradient id="cg" x1="0" y1="0" x2="1" y2="0"><stop offset="0" stop-color="#30d030"/><stop offset="0.5" stop-color="#90ff90"/><stop offset="1" stop-color="#20c020"/></linearGradient>
<linearGradient id="gr" x1="0" y1="0" x2="0" y2="1"><stop offset="0" stop-color="#58b020"/><stop offset="1" stop-color="#2c8c10"/></linearGradient>
<linearGradient id="bb" x1="0" y1="0" x2="0" y2="1"><stop offset="0" stop-color="#2a6ae0"/><stop offset="1" stop-color="#1040b8"/></linearGradient>
<radialGradient id="lens" cx="0.4" cy="0.35" r="0.7"><stop offset="0" stop-color="#f4fbff"/><stop offset="1" stop-color="#a8d4f0"/></radialGradient>
<linearGradient id="ck" x1="0" y1="0" x2="0.3" y2="1"><stop offset="0" stop-color="#4a9cf4"/><stop offset="1" stop-color="#0a48a8"/></linearGradient>
<radialGradient id="sg" cx="0.5" cy="0.5" r="0.5"><stop offset="0" stop-color="#f4f8f0"/><stop offset="1" stop-color="#e4ecf4"/></radialGradient>
<linearGradient id="sgg" x1="0" y1="0" x2="0.6" y2="1"><stop offset="0" stop-color="#dcecd4"/><stop offset="1" stop-color="#3a9c3a"/></linearGradient>
<linearGradient id="ring" x1="0" y1="0" x2="1" y2="0.3"><stop offset="0" stop-color="#3a6cd8"/><stop offset="0.4" stop-color="#b8c8ec"/><stop offset="0.7" stop-color="#c8dcc8"/><stop offset="1" stop-color="#5a9a8a"/></linearGradient>
<linearGradient id="hat" x1="0" y1="0" x2="0" y2="1"><stop offset="0" stop-color="#7cc8f0"/><stop offset="1" stop-color="#3a98d0"/></linearGradient>
<linearGradient id="face" x1="0" y1="0" x2="0.4" y2="1"><stop offset="0" stop-color="#f0c838"/><stop offset="0.5" stop-color="#fff478"/><stop offset="1" stop-color="#e8b820"/></linearGradient>
</defs>
<rect x="5" y="1" width="1" height="21" fill="#a0a0a0" shape-rendering="crispEdges"/>
<path d="M15.5,4.5 h8 l3.5,3.5 v9.5 h-11.5 z" fill="#fff" stroke="#6a6a6a" stroke-width="1"/>
<path d="M23.5,4.5 v3.5 h3.5" fill="#e8e8e8" stroke="#6a6a6a" stroke-width="0.8"/>
<rect x="17.5" y="7" width="5" height="1" fill="#707070" />
<rect x="17.5" y="10" width="5" height="1" fill="#707070" />
<rect x="17.5" y="13" width="5" height="1" fill="#707070" />
<path d="M23.5,10.5 h3.5 v4 h4 v3.5 h-4 v4 h-3.5 v-4 h-4 v-3.5 h4 z" fill="url(#gp)" stroke="#0a8a0a" stroke-width="0.9"/>
<text x="33.4" y="15.4" font-size="12.15" fill="#000" stroke="#000" stroke-width="0.27" font-family="&quot;Liberation Sans&quot;, &quot;Noto Sans CJK SC&quot;, sans-serif" textLength="36.45" lengthAdjust="spacingAndGlyphs">新订单</text>
<path d="M87.6,5 L97.2,11.6 L97.9,14.2 L89.9,19.9 L82,13.9 Q86,11.5 85.9,9.3 Q86.3,6.5 87.6,5 z" fill="#e8dca0" stroke="#a8700c" stroke-width="0.9" stroke-linejoin="round"/>
<path d="M87.8,5.4 L96.8,11.7 L89.6,17.6 L83,13.4 Q86.6,11.6 86.5,9.3 Q86.8,6.8 87.8,5.4 z" fill="url(#gold)"/>
<path d="M82.6,14 L89.7,17.8 L96.9,11.9" fill="none" stroke="#b8780c" stroke-width="0.7"/>
<path d="M82.8,14.6 L89.8,18.9 L89.8,17.9 L83.4,14 z" fill="#ffe890"/>
<path d="M112.1,4.4 L119.4,4.1 L123,6.6 L123,13 L115.7,13.4 L112.1,12.8 z" fill="#2a9cf4"/>
<path d="M112.1,4.4 L119.4,4.1 L123,6.6 L115.7,7.1 z" fill="#58bcff"/>
<path d="M112.1,4.4 L115.7,7.1 L115.7,13.4 L112.1,12.8 z" fill="#1488ec"/>
<path d="M112.1,4.4 L115.7,7.1 L123,6.6 M115.7,7.1 V13" fill="none" stroke="#d8f0ff" stroke-width="0.6"/>
<rect x="117.2" y="8.6" width="4.4" height="1" fill="#e8f6ff" />
<rect x="117.2" y="10.6" width="3.4" height="0.8" fill="#a8d8ff" />
<path d="M112.8,19.5 A2.5,2.5 0 0 1 112.4,14.6 A2.2,2.2 0 0 1 114.8,14.7 A3.3,3.3 0 0 1 121.2,14.5 A2.3,2.3 0 0 1 125.2,15.6 A2.1,2.1 0 0 1 124,19.5 z" fill="url(#cl)" stroke="#4a68a8" stroke-width="0.8"/>
<circle cx="146" cy="12" r="8" fill="url(#sg)"/>
<path d="M146.3,12 L146.3,20 A8,8 0 0 0 153.6,9.6 z" fill="url(#sgg)"/>
<g fill="none"><circle cx="146" cy="12" r="7.6" stroke="url(#ring)" stroke-width="0.9"/><circle cx="146" cy="12" r="5.2" stroke="url(#ring)" stroke-width="0.9"/><circle cx="146" cy="12" r="3" stroke="url(#ring)" stroke-width="0.7" opacity="0.6"/></g>
<rect x="146" y="12" width="1.4" height="8" fill="#1aa01a" />
<circle cx="145.7" cy="11.6" r="1.8" fill="#2a5cd8"/>
<path d="M165.6,11 L180.9,10.4 L179.6,14 L173,19.9 L170.6,19 z" fill="url(#face)" stroke="#d0a018" stroke-width="0.7" stroke-linejoin="round"/>
<path d="M165.2,8.8 Q166.5,7.6 169.3,7.4 Q169.8,4.1 173,4.1 Q176,4.1 176.6,7 Q179.5,6.6 181,7.7 Q180.5,9.6 176.5,10.6 Q171,11.6 167,10.6 Q165,9.9 165.2,8.8 z" fill="url(#hat)" stroke="#2a88b8" stroke-width="0.7"/>
<circle cx="177.4" cy="15.7" r="4" fill="#e42408" stroke="#b01400" stroke-width="0.7"/>
<rect x="175.9" y="14.2" width="3" height="3" fill="#fff" />
<text x="186.3" y="15.4" font-size="11.85" fill="#000" stroke="#000" stroke-width="0.26" font-family="&quot;Liberation Sans&quot;, &quot;Noto Sans CJK SC&quot;, sans-serif" textLength="47.4" lengthAdjust="spacingAndGlyphs">自动交易</text>
<rect x="241" y="0" width="1" height="24" fill="#a0a0a0" shape-rendering="crispEdges"/>
<rect x="242" y="0" width="1" height="24" fill="#fff" shape-rendering="crispEdges"/>
<rect x="245" y="2" width="3" height="1" fill="#b4b4b4" shape-rendering="crispEdges"/>
<rect x="245" y="4" width="3" height="1" fill="#b4b4b4" shape-rendering="crispEdges"/>
<rect x="245" y="6" width="3" height="1" fill="#b4b4b4" shape-rendering="crispEdges"/>
<rect x="245" y="8" width="3" height="1" fill="#b4b4b4" shape-rendering="crispEdges"/>
<rect x="245" y="10" width="3" height="1" fill="#b4b4b4" shape-rendering="crispEdges"/>
<rect x="245" y="12" width="3" height="1" fill="#b4b4b4" shape-rendering="crispEdges"/>
<rect x="245" y="14" width="3" height="1" fill="#b4b4b4" shape-rendering="crispEdges"/>
<rect x="245" y="16" width="3" height="1" fill="#b4b4b4" shape-rendering="crispEdges"/>
<rect x="245" y="18" width="3" height="1" fill="#b4b4b4" shape-rendering="crispEdges"/>
<rect x="245" y="20" width="3" height="1" fill="#b4b4b4" shape-rendering="crispEdges"/>
<rect x="259" y="6" width="1" height="14" fill="#505050" shape-rendering="crispEdges"/>
<rect x="257" y="17" width="14" height="1" fill="#505050" shape-rendering="crispEdges"/>
<rect x="258" y="7" width="3" height="1" fill="#505050" shape-rendering="crispEdges"/>
<rect x="257" y="8" width="1" height="1" fill="#c4c4c4" shape-rendering="crispEdges"/>
<rect x="261" y="8" width="1" height="1" fill="#c4c4c4" shape-rendering="crispEdges"/>
<rect x="269" y="16" width="1" height="3" fill="#505050" shape-rendering="crispEdges"/>
<rect x="268" y="15" width="1" height="1" fill="#c4c4c4" shape-rendering="crispEdges"/>
<rect x="268" y="19" width="1" height="1" fill="#c4c4c4" shape-rendering="crispEdges"/>
<path d="M265.5,7 V15.8 M265.5,8.5 H268.3 M262.8,14.5 H265.5" stroke="#008a00" stroke-width="1.4" fill="none"/>
<rect x="279" y="0" width="26" height="23" fill="#f8f8f8" shape-rendering="crispEdges"/>
<rect x="279" y="0" width="26" height="1" fill="#a0a0a0" shape-rendering="crispEdges"/>
<rect x="279" y="0" width="1" height="22" fill="#a0a0a0" shape-rendering="crispEdges"/>
<rect x="304" y="1" width="1" height="22" fill="#fff" shape-rendering="crispEdges"/>
<rect x="280" y="22" width="25" height="1" fill="#fff" shape-rendering="crispEdges"/>
<rect x="287" y="6" width="1" height="14" fill="#505050" shape-rendering="crispEdges"/>
<rect x="285" y="17" width="14" height="1" fill="#505050" shape-rendering="crispEdges"/>
<rect x="286" y="7" width="3" height="1" fill="#505050" shape-rendering="crispEdges"/>
<rect x="285" y="8" width="1" height="1" fill="#c4c4c4" shape-rendering="crispEdges"/>
<rect x="289" y="8" width="1" height="1" fill="#c4c4c4" shape-rendering="crispEdges"/>
<rect x="297" y="16" width="1" height="3" fill="#505050" shape-rendering="crispEdges"/>
<rect x="296" y="15" width="1" height="1" fill="#c4c4c4" shape-rendering="crispEdges"/>
<rect x="296" y="19" width="1" height="1" fill="#c4c4c4" shape-rendering="crispEdges"/>
<rect x="293" y="4" width="1" height="12" fill="#008a00" shape-rendering="crispEdges"/>
<rect x="291.5" y="6.5" width="4" height="7" fill="url(#cg)" stroke="#008a00" stroke-width="1"/>
<rect x="315" y="6" width="1" height="14" fill="#505050" shape-rendering="crispEdges"/>
<rect x="313" y="17" width="14" height="1" fill="#505050" shape-rendering="crispEdges"/>
<rect x="314" y="7" width="3" height="1" fill="#505050" shape-rendering="crispEdges"/>
<rect x="313" y="8" width="1" height="1" fill="#c4c4c4" shape-rendering="crispEdges"/>
<rect x="317" y="8" width="1" height="1" fill="#c4c4c4" shape-rendering="crispEdges"/>
<rect x="325" y="16" width="1" height="3" fill="#505050" shape-rendering="crispEdges"/>
<rect x="324" y="15" width="1" height="1" fill="#c4c4c4" shape-rendering="crispEdges"/>
<rect x="324" y="19" width="1" height="1" fill="#c4c4c4" shape-rendering="crispEdges"/>
<path d="M314,14.8 Q317.5,11 319.5,9.6 Q321,9 322.5,10.5 Q324,12.3 326,13" stroke="#2a9a2a" stroke-width="1.3" fill="none"/>
<rect x="336" y="1" width="1" height="21" fill="#a0a0a0" shape-rendering="crispEdges"/>
<line x1="354.5" y1="13.8" x2="359.6" y2="18.9" stroke="#a87c10" stroke-width="3.4" stroke-linecap="butt"/>
<line x1="354.8" y1="14.1" x2="359.3" y2="18.6" stroke="#f0d048" stroke-width="1.8" stroke-linecap="butt"/>
<circle cx="351" cy="10" r="5.4" fill="url(#lens)" stroke="#2a7ccc" stroke-width="1.3"/>
<rect x="348" y="9.2" width="6" height="1.7" fill="#3a80b8"/>
<rect x="350.15" y="7" width="1.7" height="6" fill="#3a80b8"/>
<line x1="382.5" y1="13.8" x2="387.6" y2="18.9" stroke="#a87c10" stroke-width="3.4" stroke-linecap="butt"/>
<line x1="382.8" y1="14.1" x2="387.3" y2="18.6" stroke="#f0d048" stroke-width="1.8" stroke-linecap="butt"/>
<circle cx="379" cy="10" r="5.4" fill="url(#lens)" stroke="#2a7ccc" stroke-width="1.3"/>
<rect x="376" y="9.2" width="6" height="1.7" fill="#3a80b8"/>
<rect x="401" y="4" width="8" height="8" fill="url(#gr)"/>
<path d="M402.5,7.5 h5.5 v3.5 h-1 v-1 h-3.5 v1 h-1 z" fill="#fff" opacity="0.88"/>
<rect x="403.6" y="8.6" width="3.2" height="0.8" fill="#9fd87a"/>
<rect x="402" y="5" width="1" height="1" fill="#fff" opacity="0.8"/>
<rect x="409" y="4" width="8" height="8" fill="url(#bb)"/>
<path d="M410.5,7.5 h5.5 v3.5 h-1 v-1 h-3.5 v1 h-1 z" fill="#fff" opacity="0.88"/>
<rect x="411.6" y="8.6" width="3.2" height="0.8" fill="#8aa8f0"/>
<rect x="410" y="5" width="1" height="1" fill="#fff" opacity="0.8"/>
<rect x="401" y="12" width="8" height="8" fill="url(#bb)"/>
<path d="M402.5,15.5 h5.5 v3.5 h-1 v-1 h-3.5 v1 h-1 z" fill="#fff" opacity="0.88"/>
<rect x="403.6" y="16.6" width="3.2" height="0.8" fill="#8aa8f0"/>
<rect x="402" y="13" width="1" height="1" fill="#fff" opacity="0.8"/>
<rect x="409" y="12" width="8" height="8" fill="url(#gr)"/>
<path d="M410.5,15.5 h5.5 v3.5 h-1 v-1 h-3.5 v1 h-1 z" fill="#fff" opacity="0.88"/>
<rect x="411.6" y="16.6" width="3.2" height="0.8" fill="#9fd87a"/>
<rect x="410" y="13" width="1" height="1" fill="#fff" opacity="0.8"/>
<rect x="426" y="1" width="1" height="21" fill="#a0a0a0" shape-rendering="crispEdges"/>
<rect x="431" y="0" width="26" height="23" fill="#f8f8f8" shape-rendering="crispEdges"/>
<rect x="431" y="0" width="26" height="1" fill="#a0a0a0" shape-rendering="crispEdges"/>
<rect x="431" y="0" width="1" height="22" fill="#a0a0a0" shape-rendering="crispEdges"/>
<rect x="456" y="1" width="1" height="22" fill="#fff" shape-rendering="crispEdges"/>
<rect x="432" y="22" width="25" height="1" fill="#fff" shape-rendering="crispEdges"/>
<rect x="439" y="6" width="1" height="14" fill="#505050" shape-rendering="crispEdges"/>
<rect x="437" y="17" width="14" height="1" fill="#505050" shape-rendering="crispEdges"/>
<rect x="438" y="7" width="3" height="1" fill="#505050" shape-rendering="crispEdges"/>
<rect x="437" y="8" width="1" height="1" fill="#c4c4c4" shape-rendering="crispEdges"/>
<rect x="441" y="8" width="1" height="1" fill="#c4c4c4" shape-rendering="crispEdges"/>
<rect x="449" y="16" width="1" height="3" fill="#505050" shape-rendering="crispEdges"/>
<rect x="448" y="15" width="1" height="1" fill="#c4c4c4" shape-rendering="crispEdges"/>
<rect x="448" y="19" width="1" height="1" fill="#c4c4c4" shape-rendering="crispEdges"/>
<path d="M444.3,8 L448,11.4 L444.3,14.8 z" fill="#60e060" stroke="#0a960a" stroke-width="1"/>
<rect x="459" y="0" width="26" height="23" fill="#f8f8f8" shape-rendering="crispEdges"/>
<rect x="459" y="0" width="26" height="1" fill="#a0a0a0" shape-rendering="crispEdges"/>
<rect x="459" y="0" width="1" height="22" fill="#a0a0a0" shape-rendering="crispEdges"/>
<rect x="484" y="1" width="1" height="22" fill="#fff" shape-rendering="crispEdges"/>
<rect x="460" y="22" width="25" height="1" fill="#fff" shape-rendering="crispEdges"/>
<rect x="467" y="6" width="1" height="14" fill="#505050" shape-rendering="crispEdges"/>
<rect x="465" y="17" width="14" height="1" fill="#505050" shape-rendering="crispEdges"/>
<rect x="466" y="7" width="3" height="1" fill="#505050" shape-rendering="crispEdges"/>
<rect x="465" y="8" width="1" height="1" fill="#c4c4c4" shape-rendering="crispEdges"/>
<rect x="469" y="8" width="1" height="1" fill="#c4c4c4" shape-rendering="crispEdges"/>
<rect x="477" y="16" width="1" height="3" fill="#505050" shape-rendering="crispEdges"/>
<rect x="476" y="15" width="1" height="1" fill="#c4c4c4" shape-rendering="crispEdges"/>
<rect x="476" y="19" width="1" height="1" fill="#c4c4c4" shape-rendering="crispEdges"/>
<rect x="473" y="6" width="1" height="10" fill="#1a6cb4" shape-rendering="crispEdges"/>
<path d="M479,11.5 H475.2 M477.3,9 L474.8,11.5 L477.3,14" stroke="#d04808" stroke-width="1.3" fill="none"/>
<rect x="488" y="1" width="1" height="21" fill="#a0a0a0" shape-rendering="crispEdges"/>
<path d="M498.5,4.5 h8 l3.5,3.5 v9.5 h-11.5 z" fill="#fff" stroke="#6a6a6a" stroke-width="1"/>
<path d="M506.5,4.5 v3.5 h3.5" fill="#e8e8e8" stroke="#6a6a6a" stroke-width="0.8"/>
<rect x="500.5" y="7" width="5" height="1" fill="#707070" />
<rect x="500.5" y="10" width="5" height="1" fill="#707070" />
<rect x="500.5" y="13" width="5" height="1" fill="#707070" />
<path d="M506.5,10.5 h3.5 v4 h4 v3.5 h-4 v4 h-3.5 v-4 h-4 v-3.5 h4 z" fill="url(#gp)" stroke="#0a8a0a" stroke-width="0.9"/>
<polygon points="520,11 526,11 523,14.2" fill="#000"/>
<circle cx="544" cy="12" r="8" fill="url(#ck)"/>
<circle cx="544" cy="12" r="5.4" fill="#fff"/>
<path d="M544,8.3 V12.2 H546.8" stroke="#303030" stroke-width="1.2" fill="none"/>
<path d="M544,7 v1 M544,16 v1 M539,12 h1 M548,12 h1" stroke="#a8c4ec" stroke-width="1"/>
<polygon points="558.5,11 564.5,11 561.5,14.2" fill="#000"/>
<rect x="575.5" y="5.5" width="15" height="13" fill="#fff" stroke="#2a68c0" stroke-width="1"/>
<rect x="576" y="6" width="14" height="2" fill="#78a8e8" />
<rect x="576" y="12" width="14" height="1" fill="#2a68c0" />
<path d="M577.5,11 L579,10.6 L580.5,9.6 L582,10.2 L583.5,9.2 L585,10 L586.5,9.8 L588.5,9" stroke="#b02010" stroke-width="1.2" fill="none"/>
<path d="M577.5,16.5 L579.5,15.6 L581,16.2 L583,15.6 L585,14 L586.5,15 L588.5,16.3" stroke="#10a010" stroke-width="1.2" fill="none"/>
<polygon points="597.7,11 603.7,11 600.7,14.2" fill="#000"/>
<rect x="609" y="0" width="1" height="24" fill="#a0a0a0" shape-rendering="crispEdges"/>
<rect x="610" y="0" width="1" height="24" fill="#fff" shape-rendering="crispEdges"/>
<rect x="613" y="2" width="3" height="1" fill="#b4b4b4" shape-rendering="crispEdges"/>
<rect x="613" y="4" width="3" height="1" fill="#b4b4b4" shape-rendering="crispEdges"/>
<rect x="613" y="6" width="3" height="1" fill="#b4b4b4" shape-rendering="crispEdges"/>
<rect x="613" y="8" width="3" height="1" fill="#b4b4b4" shape-rendering="crispEdges"/>
<rect x="613" y="10" width="3" height="1" fill="#b4b4b4" shape-rendering="crispEdges"/>
<rect x="613" y="12" width="3" height="1" fill="#b4b4b4" shape-rendering="crispEdges"/>
<rect x="613" y="14" width="3" height="1" fill="#b4b4b4" shape-rendering="crispEdges"/>
<rect x="613" y="16" width="3" height="1" fill="#b4b4b4" shape-rendering="crispEdges"/>
<rect x="613" y="18" width="3" height="1" fill="#b4b4b4" shape-rendering="crispEdges"/>
<rect x="613" y="20" width="3" height="1" fill="#b4b4b4" shape-rendering="crispEdges"/>
<rect x="619" y="0" width="26" height="23" fill="#f8f8f8" shape-rendering="crispEdges"/>
<rect x="619" y="0" width="26" height="1" fill="#a0a0a0" shape-rendering="crispEdges"/>
<rect x="619" y="0" width="1" height="22" fill="#a0a0a0" shape-rendering="crispEdges"/>
<rect x="644" y="1" width="1" height="22" fill="#fff" shape-rendering="crispEdges"/>
<rect x="620" y="22" width="25" height="1" fill="#fff" shape-rendering="crispEdges"/>
<path d="M627,5 L627,16 L629.8,13.6 L632,18.8 L634,17.9 L631.8,12.9 L635.3,12.6 z" fill="#505050"/>
<rect x="659" y="5" width="1" height="6" fill="#505050" shape-rendering="crispEdges"/>
<rect x="659" y="14" width="1" height="6" fill="#505050" shape-rendering="crispEdges"/>
<rect x="652" y="12" width="6" height="1" fill="#505050" shape-rendering="crispEdges"/>
<rect x="661" y="12" width="7" height="1" fill="#505050" shape-rendering="crispEdges"/>
<rect x="659" y="12" width="1" height="1" fill="#909090" shape-rendering="crispEdges"/>
<rect x="676" y="1" width="1" height="21" fill="#a0a0a0" shape-rendering="crispEdges"/>
<rect x="693" y="6" width="1" height="13" fill="#505050" shape-rendering="crispEdges"/>
<rect x="716" y="12" width="12" height="1" fill="#505050" shape-rendering="crispEdges"/>
<line x1="743.8" y1="18.8" x2="756" y2="6.6" stroke="#505050" stroke-width="1.1"/>
<g stroke="#505050" stroke-width="0.9" fill="none"><path d="M770,14 L779,6 M771.5,17 L783,7 M774.5,18.5 L784,10.5"/><path d="M772,12.5 v5 M775,10 v6 M778,7.5 v6 M781.5,4 v8" stroke-width="0.8"/></g>
<text x="780.5" y="21" font-size="7" font-weight="bold" fill="#404040" font-family="Liberation Sans, sans-serif">E</text>
<line x1="799" y1="5.5" x2="812.5" y2="5.5" stroke="#505050" stroke-width="1" stroke-dasharray="1 1" shape-rendering="crispEdges"/>
<line x1="799" y1="9.0" x2="812.5" y2="9.0" stroke="#505050" stroke-width="1" stroke-dasharray="1 1" shape-rendering="crispEdges"/>
<line x1="799" y1="12.5" x2="812.5" y2="12.5" stroke="#505050" stroke-width="1" stroke-dasharray="1 1" shape-rendering="crispEdges"/>
<line x1="799" y1="17.0" x2="808" y2="17.0" stroke="#505050" stroke-width="1" stroke-dasharray="1 1" shape-rendering="crispEdges"/>
<text x="808.6" y="21" font-size="7" font-weight="bold" fill="#404040" font-family="Liberation Sans, sans-serif">F</text>
<text x="829.6" y="17" font-size="12.6" fill="#404040" stroke="#505050" stroke-width="0.3" font-family="Liberation Sans, sans-serif" textLength="8.4" lengthAdjust="spacingAndGlyphs">A</text>
<rect x="856.5" y="6.5" width="11" height="12" fill="none" stroke="#505050" stroke-width="1" stroke-dasharray="1 1" shape-rendering="crispEdges"/>
<text x="862" y="16.6" font-size="11" font-weight="bold" fill="#505050" text-anchor="middle" font-family="Liberation Sans, sans-serif">T</text>
<path d="M883,9.8 L886.8,5.8 L890.6,9.8 L886.8,11 z M889.8,15 L893.6,13.8 L897.4,15 L893.6,19 z" fill="#505050"/>
<path d="M885.5,13.3 L887.6,15.2 L892,10.3" stroke="#505050" stroke-width="1.4" fill="none"/>
<polygon points="904,11 910,11 907,14.2" fill="#000"/>
<rect x="915" y="0" width="1" height="24" fill="#a0a0a0" shape-rendering="crispEdges"/>
<rect x="916" y="0" width="1" height="24" fill="#fff" shape-rendering="crispEdges"/>
<rect x="919" y="2" width="3" height="1" fill="#b4b4b4" shape-rendering="crispEdges"/>
<rect x="919" y="4" width="3" height="1" fill="#b4b4b4" shape-rendering="crispEdges"/>
<rect x="919" y="6" width="3" height="1" fill="#b4b4b4" shape-rendering="crispEdges"/>
<rect x="919" y="8" width="3" height="1" fill="#b4b4b4" shape-rendering="crispEdges"/>
<rect x="919" y="10" width="3" height="1" fill="#b4b4b4" shape-rendering="crispEdges"/>
<rect x="919" y="12" width="3" height="1" fill="#b4b4b4" shape-rendering="crispEdges"/>
<rect x="919" y="14" width="3" height="1" fill="#b4b4b4" shape-rendering="crispEdges"/>
<rect x="919" y="16" width="3" height="1" fill="#b4b4b4" shape-rendering="crispEdges"/>
<rect x="919" y="18" width="3" height="1" fill="#b4b4b4" shape-rendering="crispEdges"/>
<rect x="919" y="20" width="3" height="1" fill="#b4b4b4" shape-rendering="crispEdges"/>
<rect x="1065" y="0" width="26" height="23" fill="#f8f8f8" shape-rendering="crispEdges"/>
<rect x="1065" y="0" width="26" height="1" fill="#a0a0a0" shape-rendering="crispEdges"/>
<rect x="1065" y="0" width="1" height="22" fill="#a0a0a0" shape-rendering="crispEdges"/>
<rect x="1090" y="1" width="1" height="22" fill="#fff" shape-rendering="crispEdges"/>
<rect x="1066" y="22" width="25" height="1" fill="#fff" shape-rendering="crispEdges"/>
<text x="931" y="16" font-size="9.6" fill="#404040" font-family="Liberation Sans, sans-serif" textLength="12.4" lengthAdjust="spacingAndGlyphs">M1</text>
<text x="958.8" y="16" font-size="9.6" fill="#404040" font-family="Liberation Sans, sans-serif" textLength="12.4" lengthAdjust="spacingAndGlyphs">M5</text>
<text x="984.5" y="16" font-size="9.6" fill="#404040" font-family="Liberation Sans, sans-serif" textLength="18" lengthAdjust="spacingAndGlyphs">M15</text>
<text x="1012.8" y="16" font-size="9.6" fill="#404040" font-family="Liberation Sans, sans-serif" textLength="17.5" lengthAdjust="spacingAndGlyphs">M30</text>
<text x="1044" y="16" font-size="9.6" fill="#404040" font-family="Liberation Sans, sans-serif" textLength="11.7" lengthAdjust="spacingAndGlyphs">H1</text>
<text x="1070.5" y="16" font-size="9.6" fill="#404040" font-family="Liberation Sans, sans-serif" textLength="12.5" lengthAdjust="spacingAndGlyphs">H4</text>
<text x="1099.7" y="16" font-size="9.6" fill="#404040" font-family="Liberation Sans, sans-serif" textLength="11.7" lengthAdjust="spacingAndGlyphs">D1</text>
<text x="1127" y="16" font-size="9.6" fill="#404040" font-family="Liberation Sans, sans-serif" textLength="14" lengthAdjust="spacingAndGlyphs">W1</text>
<text x="1153.9" y="16" font-size="9.6" fill="#404040" font-family="Liberation Sans, sans-serif" textLength="14.4" lengthAdjust="spacingAndGlyphs">MN</text>
<rect x="1176" y="0" width="1" height="24" fill="#a0a0a0" shape-rendering="crispEdges"/>
<rect x="1177" y="0" width="1" height="24" fill="#fff" shape-rendering="crispEdges"/>
<line x1="1643.6" y1="12.9" x2="1639" y2="16.8" stroke="#2a5cd0" stroke-width="2.4"/>
<circle cx="1646.5" cy="9.5" r="3.8" fill="#f4f6ff" stroke="#2a5cd8" stroke-width="1.2"/>
<path d="M1663.3,14 a5.6,5 0 0 1 5.6,-5 h2 a5.6,5 0 0 1 0,10 h-3 l-1.6,1.8 l-0.3,-2 a5.4,5 0 0 1 -2.7,-4.8 z" fill="#e0e2ee" stroke="#b8b8c0" stroke-width="0.8"/>
<circle cx="1677.5" cy="9.3" r="8.2" fill="url(#rd)"/>
<text x="1676.4" y="14.1" font-size="12.5" fill="#fff" text-anchor="middle" font-family="Liberation Sans, sans-serif">1</text></svg>
</body></html>
